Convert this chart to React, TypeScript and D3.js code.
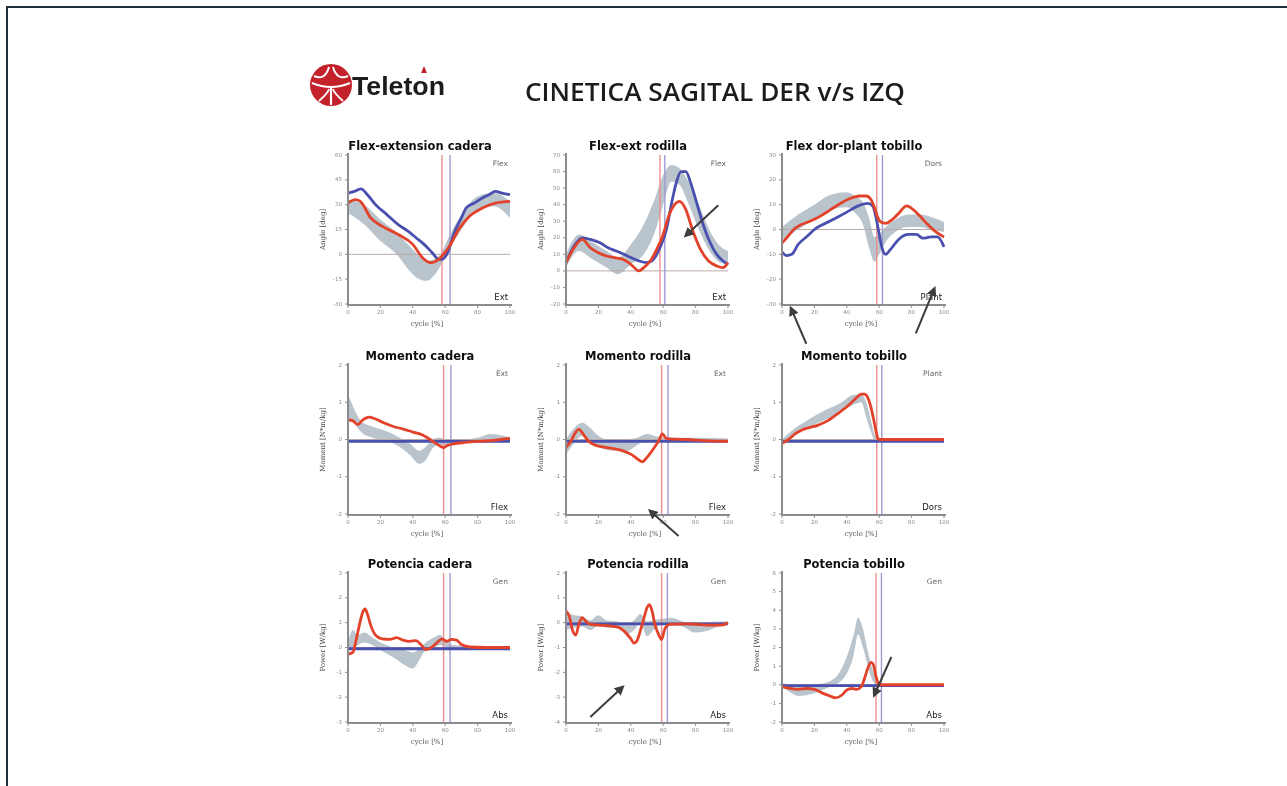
import React from 'react';
import * as d3 from 'd3';

type Pt = [number, number];
type Band = [number, number, number];

const pageTitle = 'CINETICA SAGITAL DER v/s IZQ';
const xTicks = [0, 20, 40, 60, 80, 100];

// Flex-extension cadera
const hipAngleTicks = [-30, -15, 0, 15, 30, 45, 60];
const hipAngleIzq: Pt[] = [[0, 31], [4.5, 33], [7.6, 32], [14, 22], [21, 17], [31, 12], [40, 6], [46, -2], [51, -5], [56, -3], [62, 4], [69, 16], [75, 23], [83, 28], [91, 31], [100, 32]];
const hipAngleDer: Pt[] = [[0, 37], [4, 38], [8, 39.5], [12, 36], [17, 30], [24, 24], [31, 18], [37, 14], [42, 10], [47, 6], [52, 1], [56, -3], [58, -3], [61, 0], [66, 14], [70, 22], [73, 28], [78, 31], [83, 34], [87, 36], [91, 38], [95, 37], [100, 36]];
const hipAngleNorm: Band[] = [[0, 25, 33], [10, 18, 30], [20, 8, 21], [30, 0, 13], [38, -10, 5], [44, -15, -1], [49, -16, -4], [53, -13, -3], [57, -7, 0], [62, 2, 10], [70, 15, 24], [80, 27, 35], [90, 29, 37], [100, 22, 32]];
const hipAngleToeOff = [58, 63];

// Flex-ext rodilla
const kneeAngleTicks = [-20, -10, 0, 10, 20, 30, 40, 50, 60, 70];
const kneeAngleIzq: Pt[] = [[0, 5], [5, 14], [10, 19], [15, 14], [20, 11], [25, 9], [30, 8], [35, 7], [40, 4], [45, 0], [48, 2], [52, 6], [56, 13], [60, 22], [63, 32], [67, 40], [70, 42], [74, 37], [78, 25], [83, 13], [88, 6], [93, 3], [97, 2], [100, 5]];
const kneeAngleDer: Pt[] = [[0, 5], [5, 15], [10, 20], [15, 19], [21, 17], [26, 14], [31, 12], [38, 9], [45, 6], [50, 5], [54, 7], [58, 14], [62, 25], [65, 40], [68, 53], [71, 60], [74, 60], [77, 53], [81, 40], [85, 27], [89, 17], [93, 10], [97, 6], [100, 4]];
const kneeAngleNorm: Band[] = [[0, 2, 10], [8, 12, 22], [15, 8, 18], [25, 2, 12], [32, -2, 8], [40, 4, 16], [48, 10, 28], [55, 24, 44], [60, 40, 58], [65, 54, 64], [70, 52, 62], [75, 42, 55], [82, 25, 40], [90, 10, 22], [95, 5, 15], [100, 4, 12]];
const kneeAngleToeOff = [58, 61];

// Flex dor-plant tobillo
const ankleAngleTicks = [-30, -20, -10, 0, 10, 20, 30];
const ankleAngleIzq: Pt[] = [[0, -5.5], [4, -2.5], [8, 0.5], [12, 2], [18, 3.5], [24, 5.5], [30, 8], [36, 10.5], [42, 12.5], [48, 13.5], [52, 13.5], [55, 12], [57, 9], [59, 5], [61, 3], [64, 2.5], [68, 4], [72, 6.5], [77, 9.5], [81, 8], [85, 5.5], [90, 2], [95, -1], [100, -3]];
const ankleAngleDer: Pt[] = [[0, -9], [3, -10.5], [6, -10], [10, -6], [15, -3], [20, 0], [30, 3.5], [40, 7], [47, 9.5], [53, 10.5], [56, 9.5], [58, 5], [60, -2], [62, -8], [64, -10], [67, -8], [72, -4], [78, -2], [83, -2], [87, -3.5], [92, -3], [96, -3], [100, -7]];
const ankleAngleNorm: Band[] = [[0, -4, 1], [10, 0, 6], [20, 4, 10], [30, 8, 14], [40, 9, 15], [46, 6, 13], [50, 2, 11], [54, -8, 4], [57, -13, -3], [60, -10, -2], [64, -5, 1], [70, -1, 4], [78, 1, 6], [85, 1, 6], [92, 0, 5], [100, -1, 3]];
const ankleAngleToeOff = [58.5, 62];

// Momento cadera
const momentTicks = [-2, -1, 0, 1, 2];
const hipMomentIzq: Pt[] = [[0, 0.53], [3, 0.5], [6, 0.4], [9, 0.52], [13, 0.6], [17, 0.55], [22, 0.45], [28, 0.35], [34, 0.28], [40, 0.2], [46, 0.12], [50, 0.02], [54, -0.1], [57, -0.18], [59, -0.22], [61, -0.17], [65, -0.12], [72, -0.08], [80, -0.05], [88, -0.03], [94, 0], [100, 0.03]];
const hipMomentDer: Pt[] = [[0, -0.05], [50, -0.05], [100, -0.05]];
const hipMomentNorm: Band[] = [[0, 0.6, 1.2], [3, 0.5, 0.9], [8, 0.2, 0.5], [15, 0.05, 0.35], [25, -0.05, 0.2], [32, -0.2, 0.05], [38, -0.4, -0.1], [44, -0.65, -0.3], [48, -0.55, -0.2], [52, -0.25, 0], [56, -0.15, 0.05], [62, -0.15, 0], [70, -0.1, 0], [80, -0.05, 0.05], [88, 0, 0.15], [94, -0.02, 0.12], [100, -0.02, 0.05]];
const hipMomentToeOff = [59, 63.5];

// Momento rodilla
const kneeMomentIzq: Pt[] = [[0, -0.22], [3, -0.05], [6, 0.2], [8, 0.27], [11, 0.12], [14, -0.05], [18, -0.15], [23, -0.2], [30, -0.25], [36, -0.32], [41, -0.42], [45, -0.55], [47, -0.6], [50, -0.48], [54, -0.25], [57, -0.05], [59.5, 0.15], [62, 0.03], [66, 0.01], [75, 0], [85, -0.03], [100, -0.05]];
const kneeMomentDer: Pt[] = [[0, -0.05], [50, -0.05], [100, -0.05]];
const kneeMomentNorm: Band[] = [[0, -0.4, 0], [5, -0.1, 0.3], [10, 0.1, 0.45], [14, 0, 0.35], [20, -0.2, 0.1], [30, -0.3, -0.05], [38, -0.3, 0], [44, -0.15, 0.05], [50, 0, 0.15], [56, -0.05, 0.08], [62, -0.05, 0.05], [80, -0.05, 0.05], [100, -0.05, 0.03]];
const kneeMomentToeOff = [59, 63];

// Momento tobillo
const ankleMomentIzq: Pt[] = [[0, -0.1], [4, 0], [8, 0.15], [12, 0.25], [17, 0.32], [22, 0.38], [28, 0.5], [34, 0.68], [40, 0.88], [45, 1.08], [49, 1.22], [51, 1.22], [53, 1.12], [55, 0.85], [57, 0.45], [59, 0.05], [60, 0], [70, 0], [100, 0]];
const ankleMomentDer: Pt[] = [[0, -0.05], [50, -0.05], [100, -0.05]];
const ankleMomentNorm: Band[] = [[0, -0.15, 0], [8, 0.1, 0.3], [15, 0.3, 0.5], [25, 0.5, 0.75], [35, 0.7, 0.95], [45, 0.95, 1.2], [49, 1.0, 1.2], [52, 0.6, 1.0], [55, 0.2, 0.5], [57, 0, 0.15], [59, 0, 0.05]];
const ankleMomentToeOff = [58.5, 61.6];

// Potencia cadera
const hipPowerTicks = [-3, -2, -1, 0, 1, 2, 3];
const hipPowerIzq: Pt[] = [[0, -0.27], [3, -0.2], [5, 0.3], [7, 0.9], [9, 1.4], [10.5, 1.55], [12, 1.35], [14, 0.9], [17, 0.5], [21, 0.35], [26, 0.33], [30, 0.4], [34, 0.3], [38, 0.25], [42, 0.28], [45, 0.12], [48, -0.08], [51, -0.02], [55, 0.2], [58, 0.35], [61, 0.25], [64, 0.33], [67, 0.3], [70, 0.12], [75, 0.02], [85, 0], [100, 0]];
const hipPowerDer: Pt[] = [[0, -0.05], [50, -0.05], [100, -0.05]];
const hipPowerNorm: Band[] = [[0, -0.1, 0.2], [3, 0, 0.7], [6, 0.1, 0.5], [10, 0.2, 0.6], [15, 0.1, 0.4], [20, -0.1, 0.2], [28, -0.4, 0], [35, -0.7, -0.1], [40, -0.85, -0.2], [44, -0.5, -0.05], [48, -0.1, 0.2], [53, 0, 0.4], [57, 0.1, 0.5], [60, 0, 0.3], [65, -0.05, 0.1], [80, -0.05, 0.05], [100, -0.05, 0.05]];
const hipPowerToeOff = [59, 63];

// Potencia rodilla
const kneePowerTicks = [-4, -3, -2, -1, 0, 1, 2];
const kneePowerIzq: Pt[] = [[0, 0.47], [2, 0.27], [4, -0.3], [6, -0.5], [8, -0.05], [10, 0.2], [12, 0.07], [15, -0.07], [20, -0.1], [27, -0.13], [32, -0.18], [36, -0.35], [40, -0.65], [42, -0.82], [44, -0.7], [46, -0.3], [48, 0.15], [50, 0.6], [51.5, 0.73], [53, 0.5], [55, -0.1], [57, -0.45], [59, -0.68], [61, -0.25], [64, -0.07], [75, -0.05], [90, -0.1], [96, -0.1], [100, 0]];
const kneePowerDer: Pt[] = [[0, -0.05], [50, -0.05], [100, -0.05]];
const kneePowerNorm: Band[] = [[0, -0.3, 0.4], [5, -0.2, 0.3], [10, -0.15, 0.25], [15, -0.3, 0.1], [20, -0.1, 0.3], [25, -0.2, 0.1], [32, -0.2, 0.05], [38, -0.45, -0.05], [42, -0.3, 0.1], [46, 0, 0.35], [50, -0.55, 0.05], [54, -0.3, 0.1], [58, -0.1, 0.15], [65, -0.05, 0.2], [72, -0.15, 0.05], [80, -0.4, -0.05], [86, -0.35, 0], [92, -0.2, 0.05], [100, -0.05, 0.05]];
const kneePowerToeOff = [59, 62.6];

// Potencia tobillo
const anklePowerTicks = [-2, -1, 0, 1, 2, 3, 4, 5, 6];
const anklePowerIzq: Pt[] = [[0, -0.1], [5, -0.2], [10, -0.25], [15, -0.2], [20, -0.25], [25, -0.45], [30, -0.62], [33, -0.7], [37, -0.55], [40, -0.28], [43, -0.2], [46, -0.25], [49, -0.1], [51, 0.35], [53, 0.9], [55, 1.2], [56.5, 1.05], [58, 0.45], [60, 0], [70, 0], [100, 0]];
const anklePowerDer: Pt[] = [[0, -0.05], [50, -0.05], [100, -0.05]];
const anklePowerNorm: Band[] = [[0, -0.1, 0.1], [5, -0.4, 0], [10, -0.6, -0.1], [20, -0.45, 0], [30, -0.1, 0.2], [35, 0.1, 0.6], [40, 0.6, 1.5], [44, 1.5, 2.6], [47, 2.7, 3.6], [50, 2.0, 3.0], [53, 1.0, 1.8], [56, 0.2, 0.8], [59, -0.05, 0.15], [60, 0, 0]];
const anklePowerToeOff = [58, 61.4];

interface Arrow { from: Pt; to: Pt }

interface PanelCfg {
  title: string;
  yLabel: string;
  yTicks: number[];
  top: string;
  bottom: string;
  izq: Pt[];
  der: Pt[];
  norm: Band[];
  toeOff: number[];
  arrows: Arrow[];
}

const panels: PanelCfg[] = [
  { title: 'Flex-extension cadera', yLabel: 'Angle [deg]', yTicks: hipAngleTicks, top: 'Flex', bottom: 'Ext', izq: hipAngleIzq, der: hipAngleDer, norm: hipAngleNorm, toeOff: hipAngleToeOff, arrows: [] },
  { title: 'Flex-ext rodilla', yLabel: 'Angle [deg]', yTicks: kneeAngleTicks, top: 'Flex', bottom: 'Ext', izq: kneeAngleIzq, der: kneeAngleDer, norm: kneeAngleNorm, toeOff: kneeAngleToeOff, arrows: [{ from: [94, 39.6], to: [74, 21.4] }] },
  { title: 'Flex dor-plant tobillo', yLabel: 'Angle [deg]', yTicks: ankleAngleTicks, top: 'Dors', bottom: 'Plant', izq: ankleAngleIzq, der: ankleAngleDer, norm: ankleAngleNorm, toeOff: ankleAngleToeOff, arrows: [{ from: [15, -46], to: [5.6, -31.8] }, { from: [82.6, -41.8], to: [94, -23.9] }] },
  { title: 'Momento cadera', yLabel: 'Moment [N*m/kg]', yTicks: momentTicks, top: 'Ext', bottom: 'Flex', izq: hipMomentIzq, der: hipMomentDer, norm: hipMomentNorm, toeOff: hipMomentToeOff, arrows: [] },
  { title: 'Momento rodilla', yLabel: 'Moment [N*m/kg]', yTicks: momentTicks, top: 'Ext', bottom: 'Flex', izq: kneeMomentIzq, der: kneeMomentDer, norm: kneeMomentNorm, toeOff: kneeMomentToeOff, arrows: [{ from: [69.5, -2.59], to: [52, -1.92] }] },
  { title: 'Momento tobillo', yLabel: 'Moment [N*m/kg]', yTicks: momentTicks, top: 'Plant', bottom: 'Dors', izq: ankleMomentIzq, der: ankleMomentDer, norm: ankleMomentNorm, toeOff: ankleMomentToeOff, arrows: [] },
  { title: 'Potencia cadera', yLabel: 'Power [W/kg]', yTicks: hipPowerTicks, top: 'Gen', bottom: 'Abs', izq: hipPowerIzq, der: hipPowerDer, norm: hipPowerNorm, toeOff: hipPowerToeOff, arrows: [] },
  { title: 'Potencia rodilla', yLabel: 'Power [W/kg]', yTicks: kneePowerTicks, top: 'Gen', bottom: 'Abs', izq: kneePowerIzq, der: kneePowerDer, norm: kneePowerNorm, toeOff: kneePowerToeOff, arrows: [{ from: [15, -3.8], to: [34.8, -2.6] }] },
  { title: 'Potencia tobillo', yLabel: 'Power [W/kg]', yTicks: anklePowerTicks, top: 'Gen', bottom: 'Abs', izq: anklePowerIzq, der: anklePowerDer, norm: anklePowerNorm, toeOff: anklePowerToeOff, arrows: [{ from: [67.5, 1.49], to: [57, -0.55] }] },
];

const colX = [348, 566, 782];
const rowY = [155, 365, 573];
const plotW = 162;
const plotH = 149;

const RED = '#e2432c';
const BLUE = '#4a4fae';
const AXIS = '#8c8c8c';

function Panel({ cfg, x0, y0 }: { cfg: PanelCfg; x0: number; y0: number }) {
  const yd = d3.extent(cfg.yTicks) as [number, number];
  const x = d3.scaleLinear().domain([0, 100]).range([0, plotW]);
  const y = d3.scaleLinear().domain(yd).range([plotH, 0]);
  const line = d3.line<Pt>().x(d => x(d[0])).y(d => y(d[1])).curve(d3.curveMonotoneX);
  const area = d3.area<Band>().x(d => x(d[0])).y0(d => y(d[1])).y1(d => y(d[2])).curve(d3.curveMonotoneX);

  return (
    <g transform={`translate(${x0},${y0})`}>
      <text x={plotW / 2 - 9} y={-5} textAnchor="middle" fontSize={11.5} fontWeight="bold"
        fontFamily="DejaVu Sans, sans-serif" fill="#111">{cfg.title}</text>

      {/* normal band */}
      <path d={area(cfg.norm) ?? ''} fill="#b3bec6" opacity={0.9} />

      {/* zero line */}
      <line x1={0} x2={x(100)} y1={y(0)} y2={y(0)} stroke="#b9a9a9" strokeWidth={1} />

      {/* toe-off lines */}
      <line x1={x(cfg.toeOff[0])} x2={x(cfg.toeOff[0])} y1={0} y2={plotH} stroke="#ec8f8c" strokeWidth={1.4} />
      <line x1={x(cfg.toeOff[1])} x2={x(cfg.toeOff[1])} y1={0} y2={plotH} stroke="#9c9cd2" strokeWidth={1.4} />

      <path d={line(cfg.der) ?? ''} fill="none" stroke={BLUE} strokeWidth={2.8} />
      <path d={line(cfg.izq) ?? ''} fill="none" stroke={RED} strokeWidth={2.8} />

      {/* axes */}
      <line x1={0} x2={0} y1={-2} y2={plotH + 1} stroke={AXIS} strokeWidth={2} />
      <line x1={-1} x2={plotW + 2} y1={plotH + 1} y2={plotH + 1} stroke={AXIS} strokeWidth={2} />
      {cfg.yTicks.map((t, i) => (
        <g key={i}>
          <line x1={-3} x2={0} y1={y(t)} y2={y(t)} stroke={AXIS} />
          <text x={-6} y={y(t)} textAnchor="end" dominantBaseline="middle" fontSize={5.5}
            fontFamily="DejaVu Sans, sans-serif" fill="#8a8a8a">{t}</text>
        </g>
      ))}
      {xTicks.map((t, i) => (
        <g key={i}>
          <line x1={x(t)} x2={x(t)} y1={plotH + 1} y2={plotH + 4} stroke={AXIS} />
          <text x={x(t)} y={plotH + 10} textAnchor="middle" fontSize={5.5}
            fontFamily="DejaVu Sans, sans-serif" fill="#8a8a8a">{t}</text>
        </g>
      ))}
      <text x={plotW / 2 - 2} y={plotH + 22} textAnchor="middle" fontSize={7}
        fontFamily="DejaVu Serif, serif" fill="#555">cycle [%]</text>
      <text transform={`translate(-23,${plotH / 2}) rotate(-90)`} textAnchor="middle" fontSize={7}
        fontFamily="DejaVu Serif, serif" fill="#444">{cfg.yLabel}</text>

      <text x={plotW - 2} y={11} textAnchor="end" fontSize={7.5}
        fontFamily="DejaVu Sans, sans-serif" fill="#666">{cfg.top}</text>
      <text x={plotW - 2} y={plotH - 4} textAnchor="end" fontSize={8.5}
        fontFamily="DejaVu Sans, sans-serif" fill="#222">{cfg.bottom}</text>

      {cfg.arrows.map((a, i) => (
        <line key={i} x1={x(a.from[0])} y1={y(a.from[1])} x2={x(a.to[0])} y2={y(a.to[1])}
          stroke="#3d3d3d" strokeWidth={2} markerEnd="url(#arrowHead)" />
      ))}
    </g>
  );
}

export default function App() {
  return (
    <div style={{ position: 'fixed', left: 0, top: 0 }}>
      <svg width={1287} height={786} style={{ display: 'block', background: '#fff' }}>
        <defs>
          <marker id="arrowHead" viewBox="0 0 10 10" refX={7} refY={5} markerWidth={5} markerHeight={5}
            orient="auto" markerUnits="strokeWidth">
            <path d="M0,0 L10,5 L0,10 z" fill="#3d3d3d" />
          </marker>
          <filter id="soft" x="-5%" y="-5%" width="110%" height="110%">
            <feGaussianBlur stdDeviation={0.45} />
          </filter>
        </defs>

        <rect x={7} y={7} width={1300} height={800} fill="none" stroke="#1f2d3b" strokeWidth={2} />

        <g filter="url(#soft)">
          {/* logo */}
          <g transform="translate(331,85)">
            <circle r={21} fill="#c4212b" />
            <path d="M-19,-2 Q0,6 19,-2" fill="none" stroke="#fff" strokeWidth={2.2} />
            <path d="M-17,-9 Q-6,-4 -2,-18" fill="none" stroke="#fff" strokeWidth={2} />
            <path d="M17,-9 Q6,-4 2,-18" fill="none" stroke="#fff" strokeWidth={2} />
            <path d="M0,3 L0,20" stroke="#fff" strokeWidth={2.2} />
            <path d="M-12,16 Q-3,8 -2,4" fill="none" stroke="#fff" strokeWidth={1.8} />
            <path d="M12,16 Q3,8 2,4" fill="none" stroke="#fff" strokeWidth={1.8} />
          </g>
          <text x={352} y={95} fontSize={26} fontWeight="bold" fontFamily="Liberation Sans Narrow, Liberation Sans, sans-serif"
            fill="#1a1a1a" textLength={93} lengthAdjust="spacingAndGlyphs">Teleton</text>
          <path d="M421,73 L424,66 L427,73 z" fill="#c4212b" />

          <text x={525} y={101} fontSize={26} fontWeight={600} fontFamily="Open Sans, sans-serif"
            fill="#1c1c1c" textLength={380} lengthAdjust="spacingAndGlyphs">{pageTitle}</text>

          {panels.map((p, i) => (
            <Panel key={i} cfg={p} x0={colX[i % 3]} y0={rowY[Math.floor(i / 3)]} />
          ))}
        </g>
      </svg>
    </div>
  );
}
